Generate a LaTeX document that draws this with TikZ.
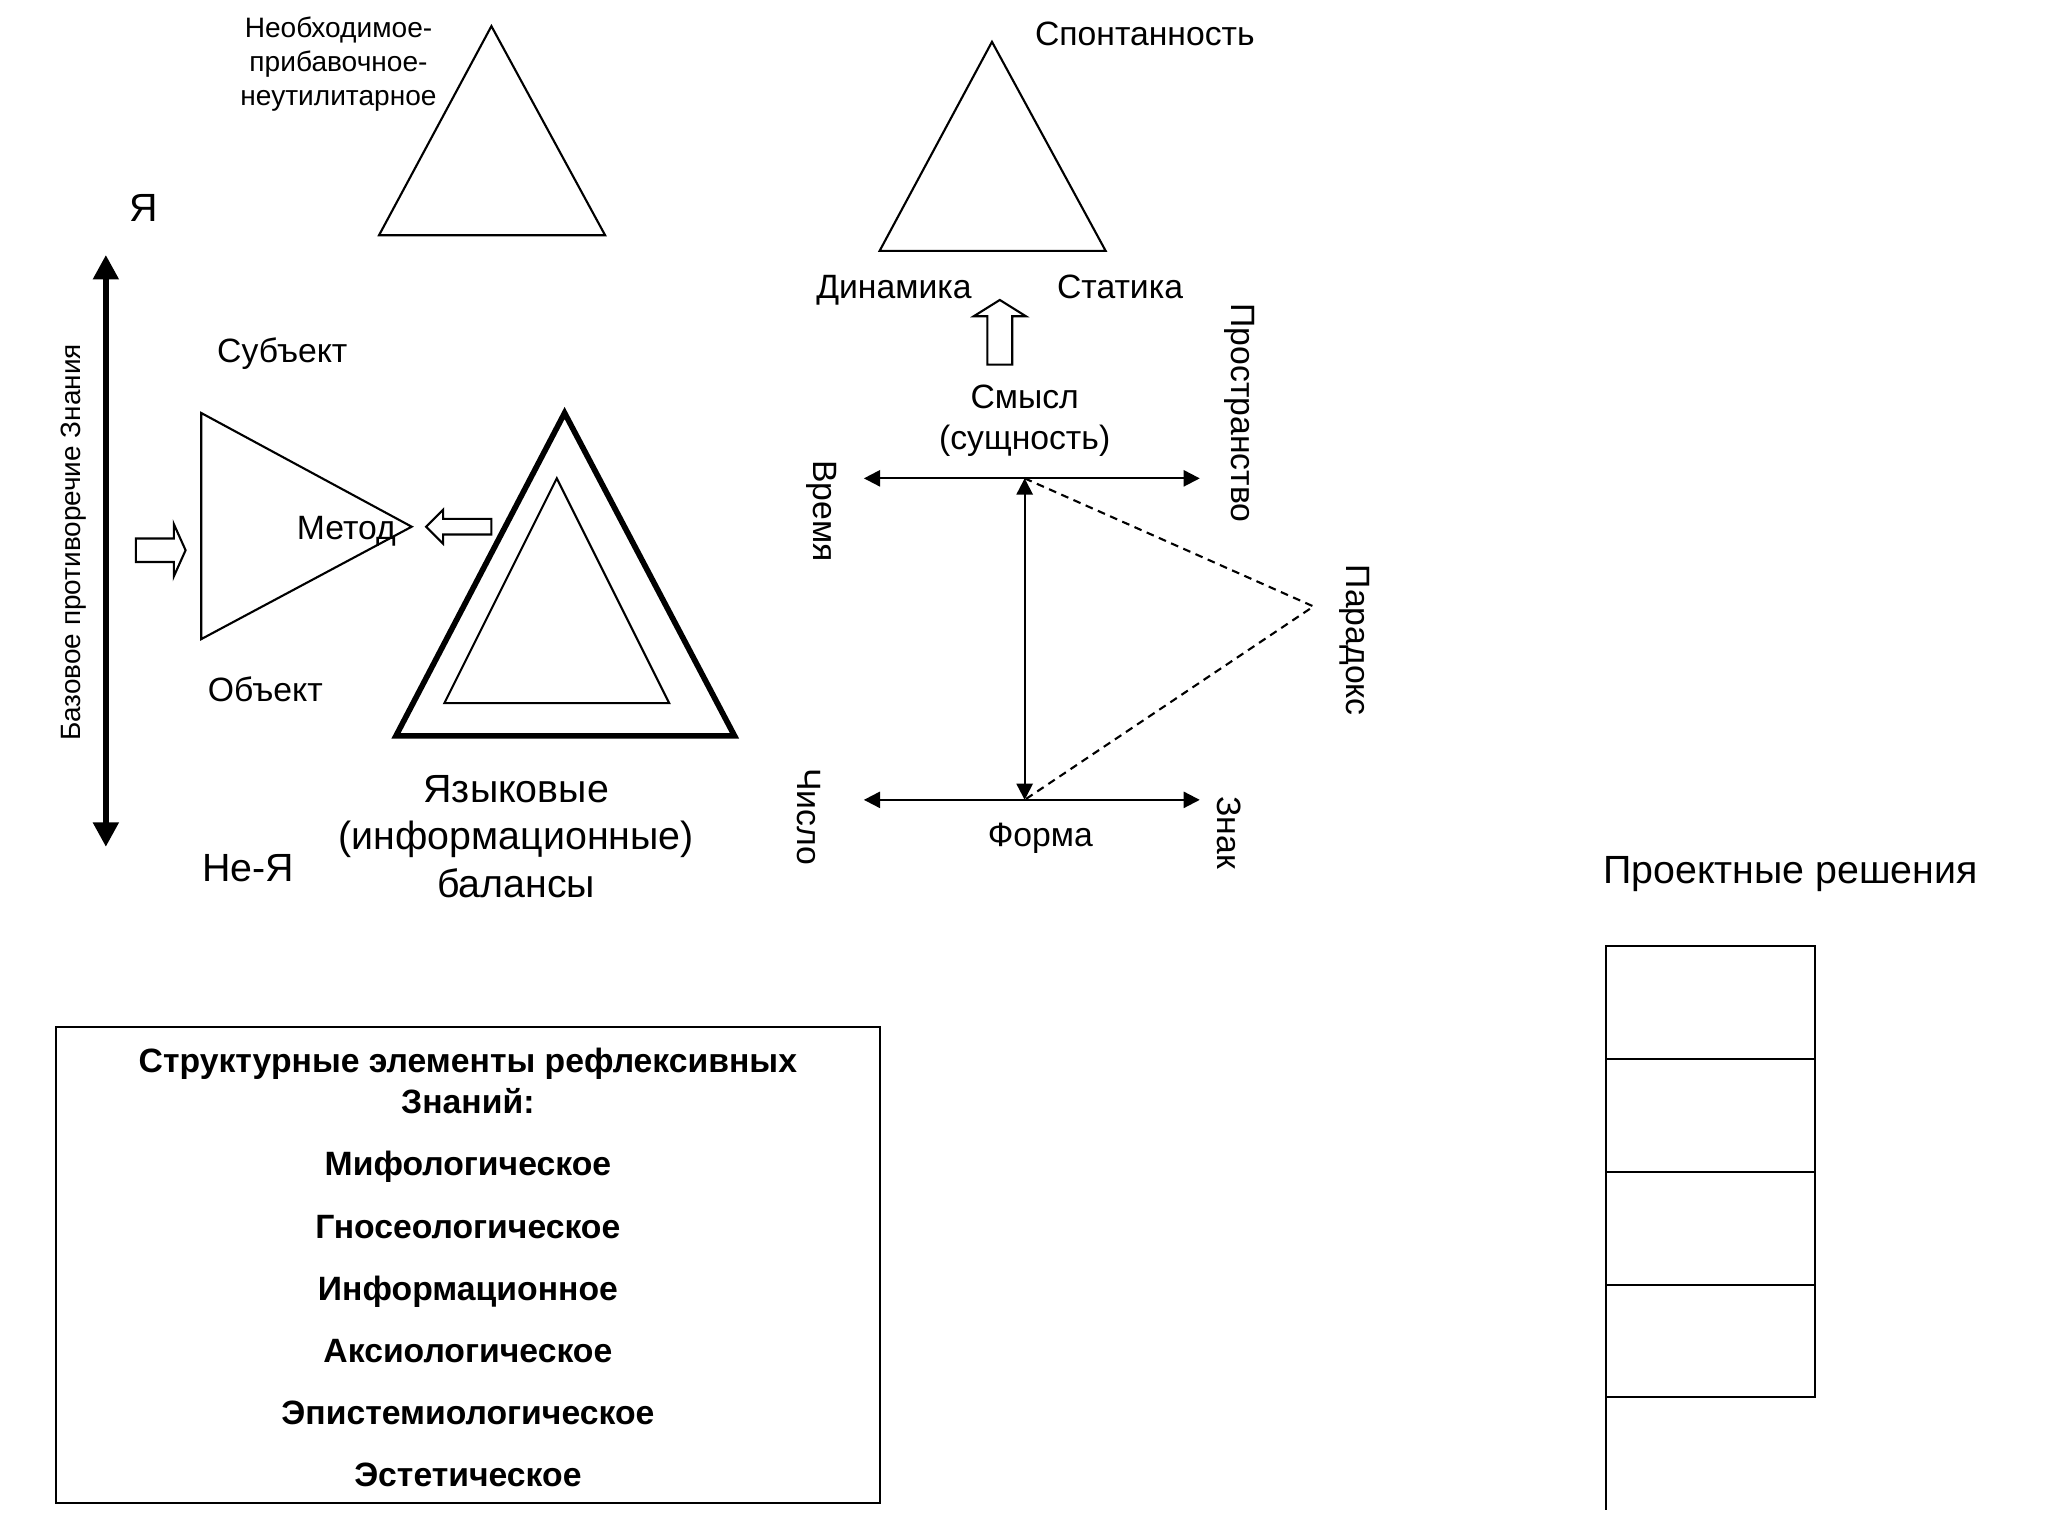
\documentclass[tikz,border=0pt]{standalone}
\usepackage{fontspec}
\setmainfont{Liberation Sans}
\usetikzlibrary{arrows.meta}
\newcommand{\fsz}[2]{\fontsize{#1pt}{#2pt}\selectfont}
\tikzset{
  lnthin/.style={line width=0.6pt},
  fixh/.style={text height=0.72em, text depth=0pt},
  lbl/.style={inner sep=0pt, font=\fsz{9.6}{11.5}, fixh},
  biglbl/.style={inner sep=0pt, font=\fsz{11.2}{13.5}, align=center},
  boldlbl/.style={inner sep=0pt, font=\fsz{9.6}{11.5}\bfseries, fixh},
  dbl/.style={lnthin, {Triangle[length=4.6pt,width=4.6pt]}-{Triangle[length=4.6pt,width=4.6pt]}},
  hollow/.style={draw, line width=0.6pt, fill=white, line join=miter},
}
\begin{document}
\begin{tikzpicture}[x=0.01307cm,y=-0.01307cm]
\useasboundingbox (0,0) rectangle (1567,1175);
\fill[white] (0,0) rectangle (1567,1175);

% top-left triangle
\draw[lnthin] (376,20) -- (463,180) -- (290,180) -- cycle;
\node[inner sep=0pt, font=\fsz{8}{9.8}, align=center] (need) at (259,49) {Необходимое-\\прибавочное-\\неутилитарное};

% I / not-I axis
\node[inner sep=0pt, font=\fsz{11.2}{13.5}, fixh] (ya) at (110,160) {Я};
\coordinate (axT) at (81,195);
\coordinate (axB) at (81,648);
\draw[line width=1.9pt, {Triangle[length=7pt,width=7pt]}-{Triangle[length=7pt,width=7pt]}] (axT) -- (axB);
\node[inner sep=0pt, font=\fsz{7.95}{9.5}, rotate=90, fixh] (base) at (52,415) {Базовое противоречие Знания};
\node[inner sep=0pt, font=\fsz{11.2}{13.5}, fixh] (neya) at (190,665) {Не-Я};

% subject / object / method
\node[lbl] (subj) at (216,268) {Субъект};
\node[lbl] (obj) at (203,527) {Объект};
\draw[lnthin] (154,316) -- (315,403) -- (154,489) -- cycle;
\node[lbl] (met) at (265,403) {Метод};
\draw[hollow] (104,412) -- (133,412) -- (133,401) -- (142,421) -- (133,441) -- (133,430) -- (104,430) -- cycle;
\draw[hollow] (376,397) -- (339,397) -- (339,390) -- (326,403) -- (339,416) -- (339,409) -- (376,409) -- cycle;

% language balances
\draw[line width=1.6pt, line join=miter] (432,316) -- (562,563) -- (303,563) -- cycle;
\draw[lnthin] (426,366) -- (512,538) -- (340,538) -- cycle;
\node[biglbl] (lang) at (395,640) {Языковые\\(информационные)\\балансы};

% top-right triangle
\draw[lnthin] (759,32) -- (846,192) -- (673,192) -- cycle;
\node[lbl] (spont) at (876,25) {Спонтанность};
\node[lbl] (dyn) at (684,219) {Динамика};
\node[lbl] (stat) at (857,219) {Статика};
\draw[hollow] (755.5,279) -- (755.5,242) -- (745,242) -- (765,229.5) -- (785,242) -- (774.5,242) -- (774.5,279) -- cycle;
\node[inner sep=0pt, font=\fsz{9.6}{11.5}, align=center] (sense) at (784,322) {Смысл\\(сущность)};

% cross
\coordinate (tl) at (661,366);
\coordinate (tr) at (918,366);
\coordinate (tc) at (784,366);
\coordinate (bl) at (661,612);
\coordinate (br) at (918,612);
\coordinate (bc) at (784,612);
\coordinate (par) at (1005,464);
\draw[dbl] (tl) -- (tr);
\draw[dbl] (bl) -- (br);
\draw[dbl] (tc) -- (bc);
\draw[lnthin, dash pattern=on 2.2pt off 1.6pt] (tc) -- (par) -- (bc);
\node[lbl, rotate=-90] (time) at (632,391) {Время};
\node[lbl, rotate=-90] (space) at (952,316) {Пространство};
\node[lbl, rotate=-90] (parad) at (1040,490) {Парадокс};
\node[lbl, rotate=-90] (num) at (620,625) {Число};
\node[lbl, rotate=-90] (sign) at (941,637) {Знак};
\node[lbl] (form) at (796,638) {Форма};

% box
\draw[lnthin] (43,786) rectangle (673,1150);
\node[boldlbl] (b1) at (358,811) {Структурные элементы рефлексивных};
\node[boldlbl] (b2) at (358,842) {Знаний:};
\node[boldlbl] (b3) at (358,890) {Мифологическое};
\node[boldlbl] (b4) at (358,938) {Гносеологическое};
\node[boldlbl] (b5) at (358,985) {Информационное};
\node[boldlbl] (b6) at (358,1033) {Аксиологическое};
\node[boldlbl] (b7) at (358,1080) {Эпистемиологическое};
\node[boldlbl] (b8) at (358,1128) {Эстетическое};

% project decisions
\node[inner sep=0pt, font=\fsz{11.2}{13.5}, fixh] (proj) at (1370,666) {Проектные решения};
\draw[lnthin] (1229,1155) -- (1229,724) -- (1389,724) -- (1389,1069) -- (1229,1069);
\draw[lnthin] (1229,810) -- (1389,810);
\draw[lnthin] (1229,897) -- (1389,897);
\draw[lnthin] (1229,983) -- (1389,983);
\end{tikzpicture}
\end{document}
